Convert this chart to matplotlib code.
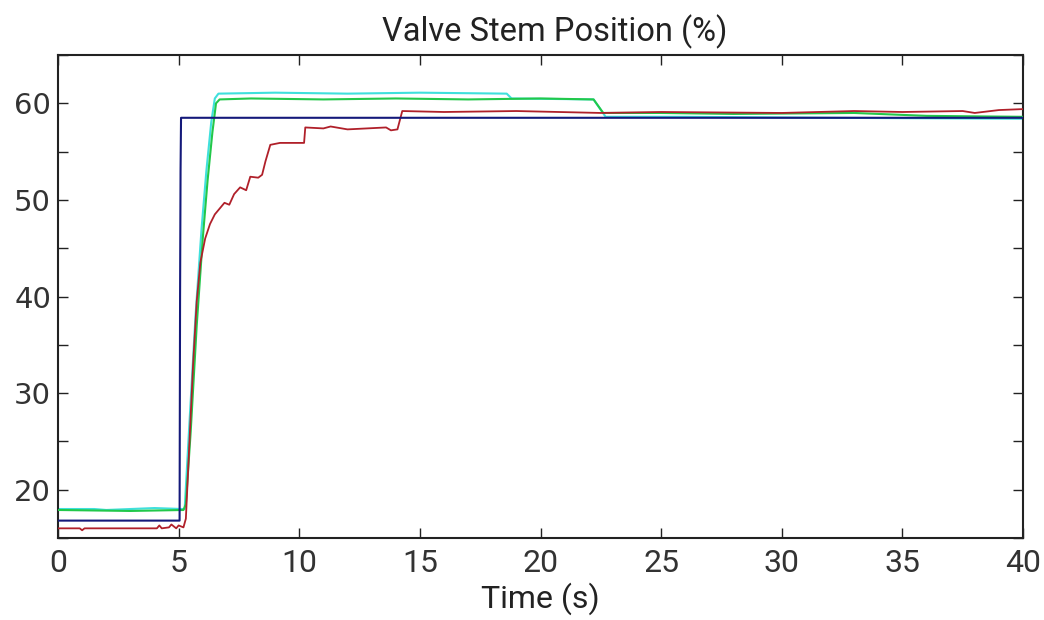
import matplotlib
matplotlib.use("Agg")
import matplotlib.pyplot as plt
from matplotlib.ticker import MultipleLocator

# Step test: valve stem position for four runs
blue_t = [0, 5.04, 5.06, 5.08, 5.10, 40]
blue_v = [16.8, 16.8, 40.0, 53.0, 58.5, 58.5]

cyan_t = [0, 1.5, 2.0, 4.0, 5.15, 5.25, 5.45, 5.7, 5.95, 6.15, 6.35, 6.5, 6.65,
          9.0, 12.0, 15.0, 18.6, 18.8, 22.2, 22.7, 26.0, 32.0, 40]
cyan_v = [18.0, 18.0, 17.9, 18.1, 18.0, 18.0, 27.0, 38.0, 47.0, 53.0, 58.0, 60.5, 61.0,
          61.1, 61.0, 61.1, 61.0, 60.5, 60.4, 58.6, 58.6, 58.5, 58.4]

green_t = [0, 3.0, 5.2, 5.3, 5.5, 5.75, 6.0, 6.2, 6.4, 6.55, 6.7,
           8.0, 11.0, 14.0, 17.0, 20.0, 22.2, 22.6, 25.0, 28.0, 33.0, 36.0, 40]
green_v = [17.9, 17.8, 17.9, 18.5, 26.0, 37.0, 46.0, 52.0, 57.0, 60.0, 60.4,
           60.5, 60.4, 60.5, 60.4, 60.5, 60.4, 59.0, 59.0, 58.9, 59.0, 58.7, 58.6]

red_t = [0, 0.9, 1.0, 1.1, 4.1, 4.2, 4.3, 4.6, 4.7, 4.9, 5.0, 5.2,
         5.3, 5.45, 5.6, 5.75, 5.9, 6.1, 6.3, 6.5, 6.9, 7.1, 7.3, 7.55, 7.8, 7.97,
         8.3, 8.46, 8.6, 8.8, 9.2, 10.2, 10.25, 11.0, 11.3, 12.0, 13.6, 13.8, 14.07,
         14.27, 16.0, 19.0, 22.5, 25.0, 30.0, 33.0, 35.0, 37.5, 38.0, 39.0, 40]
red_v = [16.0, 16.0, 15.8, 16.0, 16.0, 16.3, 16.0, 16.1, 16.4, 16.0, 16.3, 16.1,
         17.0, 25.0, 33.0, 39.5, 43.5, 46.0, 47.5, 48.5, 49.7, 49.5, 50.6, 51.3, 51.0, 52.4,
         52.3, 52.6, 54.0, 55.7, 55.9, 55.9, 57.5, 57.4, 57.6, 57.3, 57.5, 57.2, 57.3,
         59.2, 59.1, 59.2, 59.0, 59.1, 59.0, 59.2, 59.1, 59.2, 59.0, 59.3, 59.4]

x_ticks = [0, 5, 10, 15, 20, 25, 30, 35, 40]
y_ticks = [20, 30, 40, 50, 60]

narrow = ["Roboto", "DejaVu Sans"]

fig = plt.figure(figsize=(10.44, 6.2), dpi=100)
ax = fig.add_axes([58 / 1044, 1 - 538 / 620, (1023 - 58) / 1044, (538 - 55) / 620])

ax.plot(cyan_t, cyan_v, color="#3fe0dc", lw=1.5, zorder=2)
ax.plot(green_t, green_v, color="#22c84a", lw=1.5, zorder=3)
ax.plot(red_t, red_v, color="#b0202a", lw=1.3, zorder=4)
ax.plot(blue_t, blue_v, color="#14197a", lw=1.5, zorder=5)

ax.set_xlim(0, 40)
ax.set_ylim(15, 65)
ax.set_xticks(x_ticks)
ax.set_yticks(y_ticks)
ax.yaxis.set_minor_locator(MultipleLocator(5))
ax.tick_params(which="both", direction="in", top=True, right=True,
               length=7, width=1.0, color="#222222")
ax.tick_params(axis="y", which="major", labelsize=21, pad=5, labelcolor="#333333")
ax.tick_params(axis="x", which="major", labelsize=23, pad=8, labelcolor="#333333")
for lbl in ax.get_xticklabels():
    lbl.set_family(narrow)
for s in ax.spines.values():
    s.set_linewidth(1.5)
    s.set_color("#222222")

ax.set_title("Valve Stem Position (%)", fontsize=23.5, family=narrow,
             color="#222222", pad=10, x=0.515)
ax.set_xlabel("Time (s)", fontsize=23, family=narrow, color="#222222", labelpad=3)

fig.savefig("out.png", dpi=100, facecolor="white")
